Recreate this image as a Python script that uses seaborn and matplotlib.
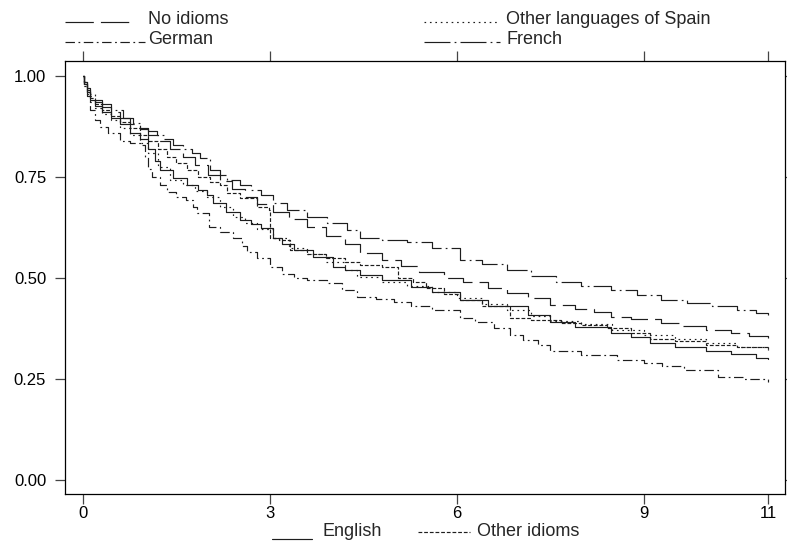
import matplotlib
matplotlib.use("Agg")
import matplotlib.pyplot as plt
from matplotlib.lines import Line2D
import seaborn as sns
import pandas as pd

sns.set_theme(style="white")
plt.rcParams["font.family"] = ["Liberation Sans", "DejaVu Sans"]

# Kaplan-Meier survival estimates by language group (time in years)
t_french = [0, 0.02, 0.06, 0.11, 0.2, 0.3, 0.45, 0.65, 0.8, 0.92, 1.05, 1.19, 1.3, 1.45, 1.6,
            1.75, 1.88, 2.04, 2.2, 2.31, 2.52, 2.7, 2.85, 3.05, 3.28, 3.6, 3.92, 4.24, 4.45,
            4.8, 5.2, 5.6, 6.06, 6.4, 6.8, 7.2, 7.6, 8.0, 8.47, 8.9, 9.28, 9.7, 10.1, 10.5,
            10.8, 11.0]
s_french = [1.0, 0.985, 0.97, 0.955, 0.94, 0.93, 0.915, 0.896, 0.883, 0.871, 0.863, 0.854,
            0.845, 0.829, 0.82, 0.81, 0.797, 0.767, 0.755, 0.743, 0.73, 0.718, 0.705, 0.686,
            0.668, 0.651, 0.636, 0.619, 0.60, 0.595, 0.588, 0.575, 0.545, 0.535, 0.52, 0.505,
            0.49, 0.48, 0.47, 0.457, 0.445, 0.437, 0.43, 0.42, 0.413, 0.408]

t_none = [0, 0.02, 0.06, 0.11, 0.2, 0.3, 0.45, 0.6, 0.75, 0.92, 1.05, 1.2, 1.4, 1.6, 1.8,
          2.0, 2.2, 2.4, 2.6, 2.8, 3.05, 3.3, 3.6, 3.9, 4.2, 4.45, 4.8, 5.1, 5.4, 5.79, 6.1,
          6.5, 6.8, 7.14, 7.5, 7.9, 8.2, 8.47, 8.8, 9.28, 9.6, 10.0, 10.4, 10.7, 11.0]
s_none = [1.0, 0.985, 0.965, 0.95, 0.935, 0.922, 0.91, 0.895, 0.882, 0.868, 0.855, 0.84,
          0.82, 0.80, 0.78, 0.755, 0.74, 0.72, 0.70, 0.683, 0.663, 0.645, 0.625, 0.603,
          0.585, 0.562, 0.545, 0.53, 0.515, 0.50, 0.49, 0.475, 0.463, 0.45, 0.433, 0.423,
          0.415, 0.404, 0.398, 0.388, 0.38, 0.372, 0.364, 0.357, 0.352]

t_other = [0, 0.02, 0.06, 0.11, 0.2, 0.3, 0.45, 0.6, 0.75, 0.92, 1.05, 1.2, 1.35, 1.5, 1.67,
           1.85, 2.04, 2.2, 2.31, 2.52, 2.8, 2.98, 3.0, 3.15, 3.33, 3.6, 3.9, 4.2, 4.45, 4.8,
           5.05, 5.3, 5.5, 5.8, 6.06, 6.4, 6.86, 7.2, 7.67, 8.0, 8.42, 8.8, 9.1, 9.5, 10.0,
           10.5, 11.0]
s_other = [1.0, 0.98, 0.96, 0.945, 0.93, 0.915, 0.90, 0.885, 0.87, 0.855, 0.84, 0.82, 0.80,
           0.785, 0.767, 0.75, 0.738, 0.73, 0.71, 0.698, 0.676, 0.668, 0.60, 0.594, 0.569,
           0.56, 0.55, 0.54, 0.532, 0.527, 0.50, 0.49, 0.475, 0.46, 0.445, 0.43, 0.40,
           0.395, 0.389, 0.383, 0.376, 0.365, 0.35, 0.343, 0.335, 0.328, 0.322]

t_spain = [0, 0.02, 0.06, 0.11, 0.2, 0.3, 0.45, 0.6, 0.75, 0.92, 1.05, 1.2, 1.4, 1.6, 1.8,
           1.99, 2.2, 2.41, 2.6, 2.8, 3.05, 3.3, 3.6, 3.9, 4.2, 4.4, 4.8, 5.2, 5.6, 6.0, 6.4,
           6.8, 7.2, 7.5, 8.0, 8.5, 9.0, 9.5, 10.0, 10.5, 11.0]
s_spain = [1.0, 0.975, 0.955, 0.935, 0.92, 0.905, 0.89, 0.872, 0.855, 0.835, 0.81, 0.775,
           0.743, 0.73, 0.715, 0.70, 0.675, 0.651, 0.635, 0.62, 0.60, 0.575, 0.56, 0.54,
           0.52, 0.503, 0.49, 0.48, 0.465, 0.45, 0.435, 0.42, 0.405, 0.393, 0.385, 0.372,
           0.358, 0.348, 0.338, 0.328, 0.316]

t_english = [0, 0.02, 0.06, 0.11, 0.2, 0.3, 0.45, 0.6, 0.75, 0.92, 1.05, 1.15, 1.24, 1.45,
             1.67, 1.85, 1.99, 2.09, 2.3, 2.52, 2.7, 2.85, 3.05, 3.2, 3.38, 3.7, 4.02, 4.2,
             4.45, 4.8, 5.26, 5.6, 6.06, 6.5, 7.14, 7.5, 7.9, 8.47, 8.8, 9.1, 9.5, 10.0,
             10.4, 10.8, 11.0]
s_english = [1.0, 0.98, 0.96, 0.94, 0.925, 0.91, 0.895, 0.88, 0.86, 0.845, 0.82, 0.79,
             0.767, 0.747, 0.73, 0.718, 0.705, 0.686, 0.664, 0.643, 0.633, 0.623, 0.60,
             0.585, 0.569, 0.552, 0.527, 0.52, 0.507, 0.495, 0.478, 0.465, 0.445, 0.43,
             0.408, 0.39, 0.378, 0.364, 0.355, 0.339, 0.33, 0.32, 0.312, 0.303, 0.30]

t_german = [0, 0.02, 0.06, 0.11, 0.2, 0.27, 0.4, 0.6, 0.75, 0.92, 1.0, 1.05, 1.1, 1.24,
            1.35, 1.5, 1.65, 1.77, 1.83, 2.03, 2.2, 2.41, 2.55, 2.64, 2.8, 3.0, 3.2, 3.38,
            3.6, 3.92, 4.15, 4.4, 4.7, 5.0, 5.26, 5.6, 6.06, 6.3, 6.6, 6.85, 7.07, 7.3, 7.5,
            8.0, 8.58, 9.0, 9.3, 9.65, 10.2, 10.6, 11.0]
s_german = [1.0, 0.975, 0.95, 0.916, 0.89, 0.874, 0.86, 0.84, 0.835, 0.829, 0.80, 0.77,
            0.75, 0.73, 0.713, 0.70, 0.693, 0.676, 0.66, 0.626, 0.615, 0.60, 0.58, 0.564,
            0.55, 0.527, 0.51, 0.50, 0.495, 0.487, 0.47, 0.453, 0.447, 0.44, 0.43, 0.42,
            0.40, 0.39, 0.376, 0.36, 0.347, 0.335, 0.32, 0.31, 0.297, 0.29, 0.283, 0.272,
            0.255, 0.25, 0.243]

x_ticks = [0, 3, 6, 9, 11]
y_ticks = [0.0, 0.25, 0.5, 0.75, 1.0]
y_labels = ["0.00", "0.25", "0.50", "0.75", "1.00"]

groups = ["No idioms", "Other languages of Spain", "German", "French", "English", "Other idioms"]
times = [t_none, t_spain, t_german, t_french, t_english, t_other]
surv = [s_none, s_spain, s_german, s_french, s_english, s_other]

dash_styles = {
    "No idioms": (0, (24, 6)),
    "Other languages of Spain": (0, (1.4, 3.2)),
    "German": (0, (8, 3, 1.5, 3)),
    "French": (0, (22, 3.5, 1.5, 3.5)),
    "English": "-",
    "Other idioms": (0, (3.2, 1.6)),
}
line_color = "#1e1e1e"
lw = 0.85

W, H = 787, 542
fig = plt.figure(figsize=(W / 100, H / 100), dpi=100)
ax = fig.add_axes([65 / W, (H - 494) / H, (785 - 65) / W, (494 - 61) / H])

for g, t, s in zip(groups, times, surv):
    df = pd.DataFrame({"t": t, "s": s})
    sns.lineplot(data=df, x="t", y="s", ax=ax, estimator=None, sort=False,
                 drawstyle="steps-post", color=line_color, linewidth=lw,
                 linestyle=dash_styles[g])

ax.set_xlim(-0.289, 11.27)
ax.set_ylim(-0.0347, 1.037)
ax.set_xticks(x_ticks)
ax.set_yticks(y_ticks)
ax.set_yticklabels(y_labels)
ax.set_xlabel("")
ax.set_ylabel("")
ax.tick_params(axis="both", which="both", direction="out", length=7.5, width=0.9,
               color="#444444", labelsize=12, labelcolor="black",
               top=True, right=True, labeltop=False, labelright=False,
               bottom=True, left=True)
ax.tick_params(axis="x", pad=1.5)
ax.tick_params(axis="y", pad=6)
for sp in ax.spines.values():
    sp.set_visible(True)
    sp.set_color("black")
    sp.set_linewidth(0.9)
ax.grid(False)


def legend_entry(x0, x1, y_line, label, style, text_x, y_text):
    fig.add_artist(Line2D([x0 / W, x1 / W], [1 - y_line / H, 1 - y_line / H],
                          transform=fig.transFigure, color=line_color,
                          linewidth=lw, linestyle=style))
    fig.text(text_x / W, 1 - y_text / H, label, fontsize=13, va="center", ha="left")


legend_entry(65, 135, 22, "No idioms", dash_styles["No idioms"], 148, 20)
legend_entry(424, 497, 22, "Other languages of Spain",
             dash_styles["Other languages of Spain"], 506, 20)
legend_entry(65, 145, 42, "German", dash_styles["German"], 148, 40)
legend_entry(424, 500, 42, "French", dash_styles["French"], 506, 40)
legend_entry(272, 312, 539, "English", dash_styles["English"], 323, 531)
legend_entry(418, 470, 532, "Other idioms", dash_styles["Other idioms"], 477, 531)

fig.savefig("out.png", dpi=100, facecolor="white")
